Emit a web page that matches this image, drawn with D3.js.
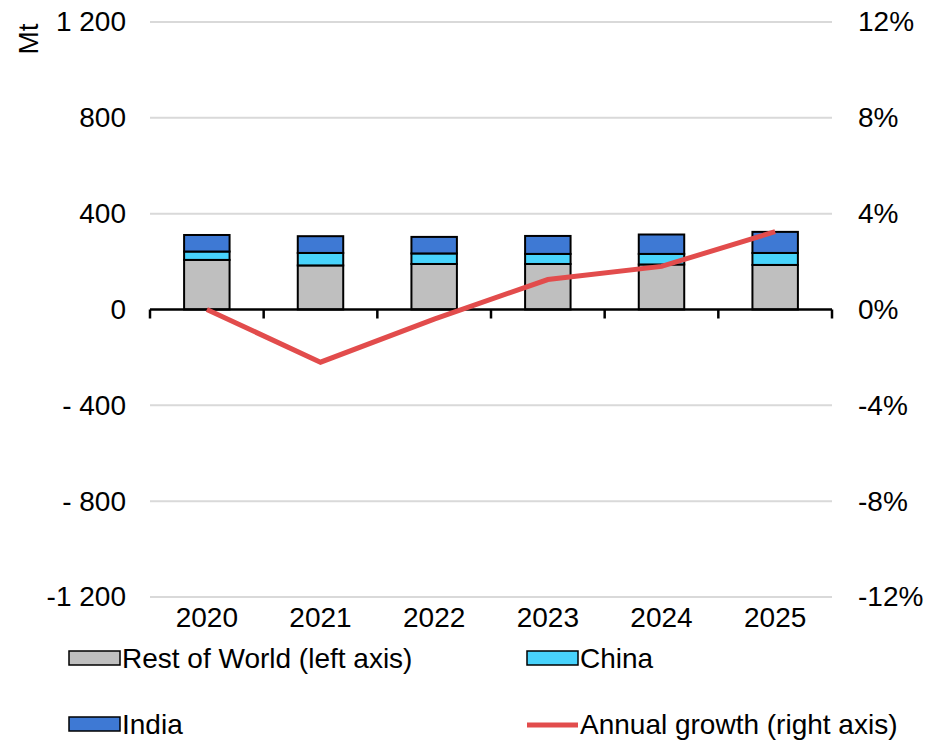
<!DOCTYPE html>
<meta charset="utf-8">
<style>
body { margin: 0; background: #fff; }
text { font-family: "Liberation Sans", Arial, sans-serif; fill: #000; }
.grid line { stroke: #d9d9d9; stroke-width: 2px; }
</style>
<script src="https://d3js.org/d3.v7.min.js"></script>
<body>
<div id="chart"></div>
<script>

// data
var years = ["2020", "2021", "2022", "2023", "2024", "2025"];
var restOfWorld = [207, 184, 190, 190, 188, 186];
var china = [35, 52, 44, 42, 44, 50];
var india = [69, 70, 69, 75, 81, 88];
var growth = [0, -2.2, -0.4, 1.25, 1.8, 3.25];   // % annual growth

var leftTicks = [-1200, -800, -400, 0, 400, 800, 1200];
var leftLabels = ["-1 200", "- 800", "- 400", "0", "400", "800", "1 200"];
var rightTicks = [-12, -8, -4, 0, 4, 8, 12];
var rightLabels = ["-12%", "-8%", "-4%", "0%", "4%", "8%", "12%"];

var seriesNames = ["Rest of World (left axis)", "China", "India"];
var colors = ["#bfbfbf", "#48d3fc", "#3e79d4"];
var lineColor = "#e24c4c";

var W = 946, H = 744;
var fs = "28px";
var margin = {top: 22, left: 150, right: 114, bottom: 147};
var width = W - margin.left - margin.right,
    height = H - margin.top - margin.bottom;

var svg = d3.select("#chart").append("svg")
    .attr("width", W)
    .attr("height", H);

var g = svg.append("g")
    .attr("transform", "translate(" + margin.left + "," + margin.top + ")");

var x = d3.scaleBand().domain(years).range([0, width])
    .paddingInner(0.6).paddingOuter(0.3);
var y = d3.scaleLinear().domain([-1200, 1200]).range([height, 0]);
var y2 = d3.scaleLinear().domain([-12, 12]).range([height, 0]);

// gridlines
g.append("g").attr("class", "grid")
  .selectAll("line")
  .data(leftTicks.filter(function(d) { return d !== 0; }))
  .join("line")
    .attr("x1", 0).attr("x2", width)
    .attr("y1", function(d) { return y(d); })
    .attr("y2", function(d) { return y(d); });

// left axis labels
var leftAxis = d3.axisLeft(y).tickValues(leftTicks)
    .tickFormat(function(d, i) { return leftLabels[i]; })
    .tickSize(0).tickPadding(24);
g.append("g").call(leftAxis)
    .call(function(a) { a.select(".domain").remove(); })
    .selectAll("text").style("font-size", fs);

// right axis labels
var rightAxis = d3.axisRight(y2).tickValues(rightTicks)
    .tickFormat(function(d, i) { return rightLabels[i]; })
    .tickSize(0).tickPadding(26);
g.append("g").attr("transform", "translate(" + width + ",0)").call(rightAxis)
    .call(function(a) { a.select(".domain").remove(); })
    .selectAll("text").style("font-size", fs);

// stacked bars
var rows = years.map(function(yr, i) {
  return {year: yr, rest: restOfWorld[i], china: china[i], india: india[i]};
});
var stack = d3.stack().keys(["rest", "china", "india"])(rows);

g.append("g").selectAll("g")
  .data(stack)
  .join("g")
    .attr("fill", function(d, i) { return colors[i]; })
  .selectAll("rect")
  .data(function(d) { return d; })
  .join("rect")
    .attr("x", function(d) { return x(d.data.year); })
    .attr("y", function(d) { return y(d[1]); })
    .attr("width", x.bandwidth())
    .attr("height", function(d) { return y(d[0]) - y(d[1]); })
    .attr("stroke", "#000")
    .attr("stroke-width", 2);

// zero axis with ticks between categories
var step = x.step();
var xTicks = d3.range(years.length + 1).map(function(i) { return i * step; });
var zero = g.append("g").attr("transform", "translate(0," + y(0) + ")");
zero.append("line")
    .attr("x1", 0).attr("x2", width)
    .attr("stroke", "#000").attr("stroke-width", 2.5);
zero.selectAll(".tk").data(xTicks).join("line")
    .attr("class", "tk")
    .attr("x1", function(d) { return d; }).attr("x2", function(d) { return d; })
    .attr("y1", 0).attr("y2", 9)
    .attr("stroke", "#000").attr("stroke-width", 2.5);

// category labels at the bottom
var xAxis = d3.axisBottom(x).tickSize(0).tickPadding(10);
g.append("g").attr("transform", "translate(0," + height + ")").call(xAxis)
    .call(function(a) { a.select(".domain").remove(); })
    .selectAll("text").style("font-size", fs);

// growth line
var line = d3.line()
    .x(function(d, i) { return x(years[i]) + x.bandwidth() / 2; })
    .y(function(d) { return y2(d); });
g.append("path")
    .datum(growth)
    .attr("fill", "none")
    .attr("stroke", lineColor)
    .attr("stroke-width", 5)
    .attr("d", line);

// y axis title
svg.append("text")
    .attr("transform", "translate(38,39) rotate(-90)")
    .attr("text-anchor", "middle")
    .style("font-size", fs)
    .text("Mt");

// legend
var legend = [
  {name: seriesNames[0], type: "rect", color: colors[0], x: 69, y: 658},
  {name: seriesNames[1], type: "rect", color: colors[1], x: 527, y: 658},
  {name: seriesNames[2], type: "rect", color: colors[2], x: 69, y: 724},
  {name: "Annual growth (right axis)", type: "line", color: lineColor, x: 527, y: 724}
];
var lg = svg.append("g").selectAll("g").data(legend).join("g")
    .attr("transform", function(d) { return "translate(" + d.x + "," + d.y + ")"; });
lg.filter(function(d) { return d.type === "rect"; }).append("rect")
    .attr("x", 0).attr("y", -7).attr("width", 51).attr("height", 14)
    .attr("fill", function(d) { return d.color; })
    .attr("stroke", "#000").attr("stroke-width", 1.5);
lg.filter(function(d) { return d.type === "line"; }).append("line")
    .attr("x1", 0).attr("x2", 51).attr("y1", 1).attr("y2", 1)
    .attr("stroke", function(d) { return d.color; }).attr("stroke-width", 5);
lg.append("text")
    .attr("x", 53).attr("dy", "0.35em")
    .style("font-size", fs)
    .text(function(d) { return d.name; });

</script>
</body>
